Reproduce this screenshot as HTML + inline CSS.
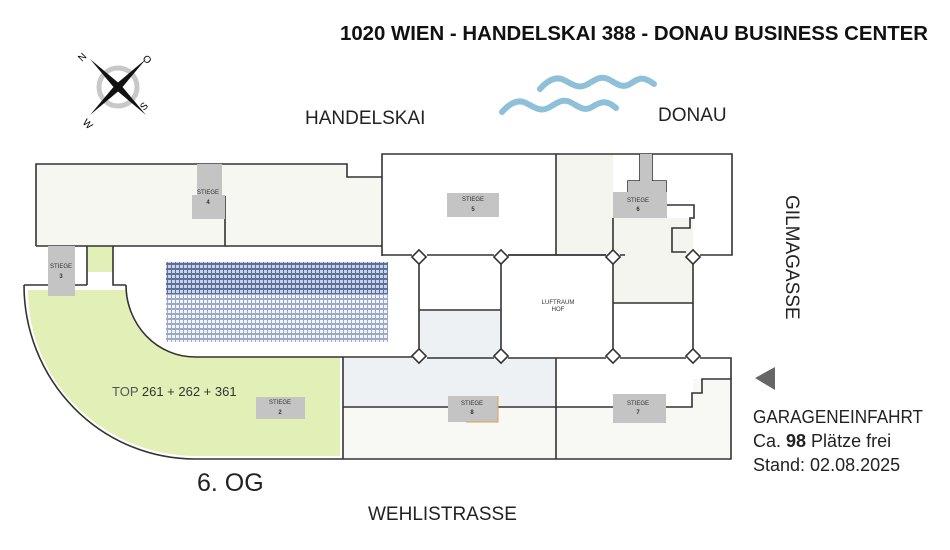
<!DOCTYPE html>
<html><head><meta charset="utf-8"><style>
html,body{margin:0;padding:0;background:#fff;}
svg{display:block;font-family:"Liberation Sans",sans-serif;}
</style></head><body>
<svg width="950" height="550" viewBox="0 0 950 550" xmlns="http://www.w3.org/2000/svg">
<defs>
<pattern id="grid" width="4" height="5" patternUnits="userSpaceOnUse">
<rect width="4" height="5" fill="#5b6f9a"/><rect x="0" y="0" width="3" height="3" fill="#c9d3e6"/>
</pattern>
<pattern id="grid2" width="4" height="5" patternUnits="userSpaceOnUse">
<rect width="4" height="5" fill="#9aa9c6"/><rect x="0" y="0" width="3" height="3" fill="#f2f4f8"/>
</pattern>
</defs>
<text x="340" y="40" font-size="20" font-weight="bold" fill="#111" textLength="588" lengthAdjust="spacingAndGlyphs">1020 WIEN - HANDELSKAI 388 - DONAU BUSINESS CENTER</text>
<!-- compass -->
<g transform="translate(118,87)">
<circle r="19" fill="none" stroke="#c8c8c8" stroke-width="5"/>
<polygon points="-28,-28 -2,3 3,-2" fill="#111"/>
<polygon points="28,28 2,-3 -3,2" fill="#111"/>
<polygon points="28,-28 -3,-2 2,3" fill="#111"/>
<polygon points="-28,28 3,2 -2,-3" fill="#111"/>
<text x="-36" y="-25" font-size="10" transform="rotate(-45 -36 -25)">N</text>
<text x="24" y="-28" font-size="10" transform="rotate(45 24 -28)">O</text>
<text x="26" y="24" font-size="10" transform="rotate(-45 26 24)">S</text>
<text x="-36" y="36" font-size="10" transform="rotate(45 -36 36)">W</text>
</g>
<!-- waves -->
<g fill="none" stroke="#8fc0da" stroke-width="6" stroke-linecap="round">
<path d="M540,89 C548,80 556,76 564,80 S578,89 586,85 S600,75 608,79 S622,89 630,84 S642,75 654,84"/>
<path d="M502,112 C510,103 518,99 526,103 S540,112 548,108 S562,98 570,102 S584,112 592,107 S606,99 616,108"/>
</g>
<text x="305" y="124" font-size="19" fill="#222">HANDELSKAI</text>
<text x="658" y="121" font-size="19" fill="#222">DONAU</text>
<text x="786" y="195" font-size="19" fill="#222" transform="rotate(90 786 195)">GILMAGASSE</text>

<!-- fills -->
<rect x="36" y="164" width="311" height="82" fill="#f7f7f2"/>
<rect x="347" y="177" width="35" height="69" fill="#f7f7f2"/>
<rect x="556" y="154" width="57" height="101" fill="#f5f5f0"/>
<rect x="613" y="218" width="80" height="85" fill="#f5f5f0"/>
<rect x="343" y="407" width="388" height="51" fill="#f8f8f4"/>
<rect x="343" y="358" width="213" height="49" fill="#eef1f3"/>
<rect x="419" y="310" width="82" height="48" fill="#eef1f3"/>
<rect x="693" y="379" width="38" height="28" fill="#f8f8f4"/>
<rect x="88" y="246" width="25" height="26" fill="#e2efb6"/>
<!-- green area -->
<path d="M28,290 L126,290 A70,67 0 0 0 196,357 L340,357 L340,456 L196,456 A168,166 0 0 1 28,290 Z" fill="#e2efb6"/>

<!-- walls -->
<g fill="none" stroke="#333" stroke-width="1.6">
<path d="M36,246 L36,164 L347,164 L347,177 L382,177"/>
<path d="M36,246 L382,246"/>
<path d="M225,196 L225,246"/>
<path d="M87,246 L87,285 M113,246 L113,285 L126,285"/>
<path d="M24,285 L48,285 M75,285 L87,285"/>
<path d="M24,285 A171,174 0 0 0 195,459 L731,459 L731,379 L702,379 L702,393 L692,393 L692,407 L666,407"/>
<path d="M126,285 A69,72 0 0 0 195,357 L412,357"/>
<path d="M343,357 L343,459"/>
<path d="M382,256 L382,154 L732,154 L732,255 L700,255"/>
<path d="M382,255 L412,255 M427,255 L494,255 M508,255 L606,255 M620,255 L625,255"/>
<path d="M556,154 L556,255"/>
<path d="M501,262 L501,351 M613,262 L613,351 M419,262 L419,351 M693,262 L693,351"/>
<path d="M508,255 L606,255 M508,358 L606,358"/>
<path d="M419,310 L501,310 M613,303 L693,303"/>
<path d="M427,358 L494,358 M620,358 L686,358 M700,358 L731,358 L731,379"/>
<path d="M343,407 L448,407 M498,407 L613,407"/>
<path d="M556,358 L556,459"/>
<path d="M613,218 L613,255"/>
<path d="M667,205 L694,205 L694,218 L690,218 L690,228 L672,228 L672,252 L686,252"/>
<path d="M628,192 L628,181 L640,181 L640,154 M652,154 L652,181 L666,181 L666,192"/>
</g>
<!-- chamfer notches -->
<g fill="#fff" stroke="#333" stroke-width="1.6">
<rect x="-5" y="-5" width="10" height="10" transform="translate(419,257) rotate(45)"/>
<rect x="-5" y="-5" width="10" height="10" transform="translate(501,257) rotate(45)"/>
<rect x="-5" y="-5" width="10" height="10" transform="translate(613,257) rotate(45)"/>
<rect x="-5" y="-5" width="10" height="10" transform="translate(693,257) rotate(45)"/>
<rect x="-5" y="-5" width="10" height="10" transform="translate(419,356) rotate(45)"/>
<rect x="-5" y="-5" width="10" height="10" transform="translate(501,356) rotate(45)"/>
<rect x="-5" y="-5" width="10" height="10" transform="translate(613,356) rotate(45)"/>
<rect x="-5" y="-5" width="10" height="10" transform="translate(693,356) rotate(45)"/>
</g>
<!-- stiegen -->
<g fill="#c4c4c4">
<rect x="197" y="164" width="25" height="32"/>
<rect x="192" y="195" width="33" height="24"/>
<rect x="48" y="246" width="27" height="50"/>
<rect x="256" y="397" width="49" height="22"/>
<rect x="447" y="193" width="52" height="24"/>
<rect x="613" y="192" width="54" height="26"/>
<rect x="640" y="154" width="12" height="27"/>
<rect x="628" y="181" width="38" height="12"/>
<rect x="448" y="396" width="50" height="26"/>
<rect x="613" y="394" width="53" height="29"/>
</g>
<path d="M498,396 L498,422 L466,422" fill="none" stroke="#e0a050" stroke-width="1"/>
<g font-size="6" fill="#333" text-anchor="middle">
<text x="208" y="194">STIEGE</text><text x="208" y="204" font-weight="bold">4</text>
<text x="61" y="268">STIEGE</text><text x="61" y="278" font-weight="bold">3</text>
<text x="280" y="404">STIEGE</text><text x="280" y="414" font-weight="bold">2</text>
<text x="473" y="201">STIEGE</text><text x="473" y="211" font-weight="bold">5</text>
<text x="638" y="202">STIEGE</text><text x="638" y="211" font-weight="bold">6</text>
<text x="472" y="405">STIEGE</text><text x="472" y="414" font-weight="bold">8</text>
<text x="638" y="405">STIEGE</text><text x="638" y="414" font-weight="bold">7</text>
<text x="558" y="304">LUFTRAUM</text><text x="558" y="311">HOF</text>
</g>
<text x="112" y="396" font-size="13" fill="#333"><tspan fill="#555">TOP</tspan> 261 + 262 + 361</text>
<!-- building -->
<rect x="166" y="262" width="222" height="32" fill="url(#grid)"/>
<rect x="166" y="294" width="222" height="48" fill="url(#grid2)"/>
<!-- right side -->
<polygon points="755,378 775,367 775,390" fill="#666"/>
<text x="753" y="423" font-size="18" fill="#222" textLength="170" lengthAdjust="spacingAndGlyphs">GARAGENEINFAHRT</text>
<text x="753" y="447" font-size="18" fill="#222">Ca. <tspan font-weight="bold">98</tspan> Plätze frei</text>
<text x="753" y="471" font-size="18" fill="#222">Stand: 02.08.2025</text>
<text x="197" y="491" font-size="25" fill="#222">6. OG</text>
<text x="368" y="520" font-size="19" fill="#222">WEHLISTRASSE</text>
</svg>
</body></html>
